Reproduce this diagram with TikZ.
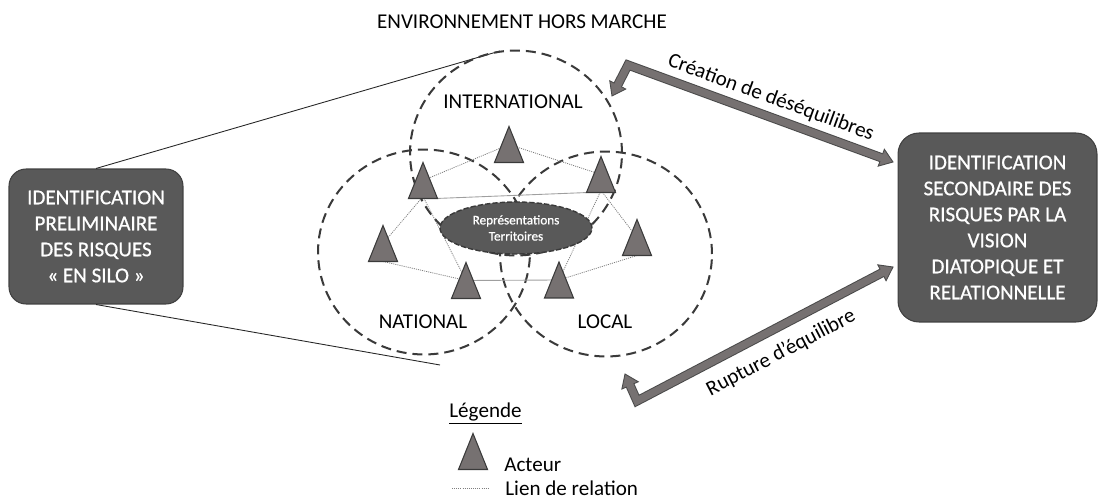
\documentclass[tikz,border=0pt]{standalone}
\usepackage{fontspec}
\setmainfont{Carlito}
\newfontfamily\boxfont[FakeBold=0.7]{Carlito}
\usetikzlibrary{calc,shapes.geometric}
\definecolor{boxfill}{HTML}{595959}
\definecolor{boxline}{HTML}{404040}
\definecolor{actfill}{HTML}{767171}
\definecolor{actline}{HTML}{3A3A3A}
\definecolor{zoneline}{HTML}{3A3A3A}
\definecolor{arrfill}{HTML}{767171}
\definecolor{arrline}{HTML}{4A4A4A}
\definecolor{linkcol}{HTML}{7F7F7F}
\newcommand\drawactor[1]{\draw[actor] ($(#1)+(-14.5,18)$) -- ($(#1)+(0,-18)$) -- ($(#1)+(14.5,18)$) -- cycle;}
\newcommand\blockarrow[3]{%
  \coordinate (#1Lb) at ($(#1L)!0.25cm!(#1E)$);
  \coordinate (#1Rb) at ($(#1R)!0.25cm!(#1E)$);
  \draw[arrline, line width=0.185cm, line join=miter] (#1Lb) -- (#1E) -- (#1Rb);
  \filldraw[fill=arrfill, draw=arrline, line width=0.5pt, line join=miter] (#1L) -- ($(#1Lb)!0.18cm!90:(#1L)$) -- ($(#1Lb)!0.18cm!-90:(#1L)$) -- cycle;
  \filldraw[fill=arrfill, draw=arrline, line width=0.5pt, line join=miter] (#1R) -- ($(#1Rb)!0.18cm!90:(#1R)$) -- ($(#1Rb)!0.18cm!-90:(#1R)$) -- cycle;
  \draw[arrfill, line width=0.145cm, line join=miter] ($(#1Lb)!0.04cm!(#1L)$) -- (#1E) -- ($(#1Rb)!0.04cm!(#1R)$);
  \node[lab, rotate=#3] (#1lab) at #2 {\arrowtext};
}
\begin{document}
\begin{tikzpicture}[x=0.02cm,y=-0.02cm, font=\fontsize{12}{14.6}\selectfont,
 zone/.style={draw=zoneline, line width=1.15pt, dash pattern=on 5.7pt off 3.4pt, ellipse, minimum width=4.24cm, minimum height=4.1cm, inner sep=0},
 bigbox/.style={fill=boxfill, draw=boxline, line width=0.6pt, text=white, align=center, inner sep=0, font=\boxfont\fontsize{12}{14.8}\selectfont},
 actor/.style={fill=actfill, draw=actline, line width=0.6pt, line join=miter},
 rel/.style={draw=linkcol, line width=0.45pt, dash pattern=on 0.6pt off 0.6pt},
 relsolid/.style={draw=linkcol!75, line width=0.5pt},
 lab/.style={text=black, inner sep=0},
 rep/.style={ellipse, fill=boxfill, draw=zoneline, dash pattern=on 3pt off 1.2pt, line width=0.8pt, text=white, minimum width=3.04cm, minimum height=1.04cm, inner sep=0, align=center, font=\boxfont\fontsize{7.5}{9.2}\selectfont},
 thinline/.style={draw=black!85, line width=0.5pt},
]
\useasboundingbox (0,0) rectangle (1098,499);

% title
\node[lab] (title) at (522,22) {ENVIRONNEMENT HORS MARCHE};

% boxes
\node[bigbox, rounded corners=0.34cm, minimum width=3.48cm, minimum height=2.7cm] (lbox) at (96,236.5)
  {IDENTIFICATION\\PRELIMINAIRE\\DES RISQUES\\« EN SILO »};
\node[bigbox, rounded corners=0.42cm, minimum width=3.98cm, minimum height=3.78cm] (rbox) at (997.5,227.5)
  {IDENTIFICATION\\SECONDAIRE DES\\RISQUES PAR LA\\VISION\\DIATOPIQUE ET\\RELATIONNELLE};

% zoom lines
\coordinate (ltop) at (500,51);
\coordinate (lbot) at (440,365);
\draw[thinline] (lbox.north) -- (ltop);
\draw[thinline] (lbox.south) -- (lbot);

% zones
\node[zone] (intl) at (516,153) {};
\node[zone] (natl) at (424,252) {};
\node[zone] (locl) at (606,254) {};
\node[lab] (intllab) at (513,102) {INTERNATIONAL};
\node[lab] (natllab) at (423,322) {NATIONAL};
\node[lab] (locllab) at (605,322) {LOCAL};

% actors
\coordinate (t1) at (509,144.5);
\coordinate (t2) at (423,180.5);
\coordinate (t3) at (601,174.5);
\coordinate (t4) at (383,243.5);
\coordinate (t5) at (637,237.5);
\coordinate (t6) at (466,280.5);
\coordinate (t7) at (559,280);

% links
\draw[rel] (t1) -- (t2);
\draw[rel] (t1) -- (t3);
\draw[rel] ($(t2)+(0,16)$) -- (t4);
\draw[rel] ($(t2)+(0,16)$) -- (t6);
\draw[rel] ($(t4)+(0,18)$) -- (t6);
\draw[rel] ($(t3)+(0,16)$) -- (t7);
\draw[rel] ($(t3)+(0,16)$) -- (t5);
\draw[rel] ($(t5)+(0,18)$) -- (t7);
\draw[relsolid] ($(t2)+(13,18)$) -- ($(t3)+(-13,18)$);
\draw[relsolid] (t6) -- (t7);

\drawactor{t1}
\drawactor{t2}
\drawactor{t3}
\drawactor{t4}
\drawactor{t5}
\drawactor{t6}
\drawactor{t7}

% representations
\node[rep] (repr) at (516,228) {Représentations\\Territoires};

% block arrows
\coordinate (aL) at (612,96);
\coordinate (aE) at (628,65);
\coordinate (aR) at (893,162);
\def\arrowtext{Création de déséquilibres}
\blockarrow{a}{(771,98)}{-20.1}
\coordinate (bL) at (625,374);
\coordinate (bE) at (637,401);
\coordinate (bR) at (893,267);
\def\arrowtext{Rupture d’équilibre}
\blockarrow{b}{(781,353)}{27.6}

% legend
\node[lab] (legtitle) at (485.5,414) {\underline{Légende}};
\coordinate (leg) at (473,451.5);
\drawactor{leg}
\node[lab, anchor=west] (legact) at (504,465) {Acteur};
\coordinate (legl1) at (452,488);
\coordinate (legl2) at (488,488);
\draw[rel] (legl1) -- (legl2);
\node[lab, anchor=west] (legrel) at (505,488) {Lien de relation};
\end{tikzpicture}
\end{document}
